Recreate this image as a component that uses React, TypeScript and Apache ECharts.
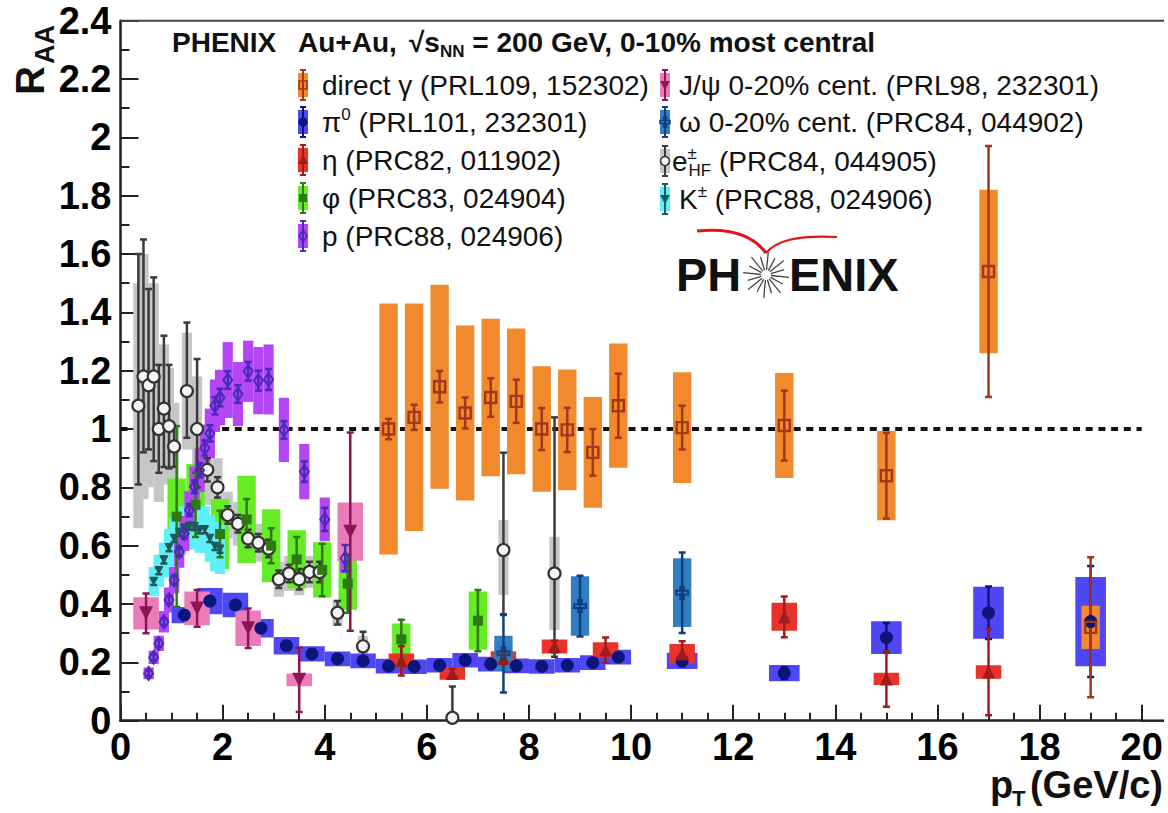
import React, { useEffect, useRef } from "react";
import * as echarts from "echarts";

const FONT = '"Liberation Sans", Arial, Helvetica, sans-serif';

// ---------------- data (pT in GeV/c, R_AA values, errors) ----------------
type Err = number | [number, number];

const gammaPt = [5.25, 5.75, 6.25, 6.75, 7.25, 7.75, 8.25, 8.75, 9.25, 9.75, 11, 13, 15, 17, 19];
const gammaVal = [1.0, 1.04, 1.145, 1.055, 1.108, 1.095, 1.0, 0.997, 0.92, 1.08, 1.005, 1.012, 0.84, 1.54, 0.32];
const gammaStat: Err[] = [0.035, 0.043, 0.054, 0.053, 0.066, 0.074, 0.072, 0.076, 0.08, 0.11, 0.075, 0.12, 0.147, 0.43, 0.24];
const gammaSys: Err[] = [0.43, 0.39, 0.35, 0.3, 0.27, 0.25, 0.215, 0.207, 0.19, 0.213, 0.19, 0.18, 0.153, 0.28, 0.074];

const pi0Pt = [1.25, 1.75, 2.25, 2.75, 3.25, 3.75, 4.25, 4.75, 5.25, 5.75, 6.25, 6.75, 7.25, 7.75, 8.25, 8.75, 9.25, 9.75, 11, 13, 15, 17, 19];
const pi0Val = [0.362, 0.41, 0.397, 0.317, 0.257, 0.229, 0.212, 0.205, 0.187, 0.185, 0.19, 0.207, 0.194, 0.188, 0.186, 0.19, 0.199, 0.218, 0.205, 0.163, 0.285, 0.37, 0.34];
const pi0Stat: Err[] = [0.004, 0.004, 0.004, 0.004, 0.004, 0.004, 0.004, 0.004, 0.004, 0.004, 0.005, 0.005, 0.005, 0.006, 0.007, 0.008, 0.01, 0.012, 0.015, 0.02, 0.05, 0.09, 0.19];
const pi0Sys: Err[] = [0.028, 0.045, 0.042, 0.032, 0.03, 0.026, 0.025, 0.025, 0.025, 0.025, 0.025, 0.025, 0.025, 0.025, 0.025, 0.025, 0.025, 0.025, 0.028, 0.028, 0.056, 0.089, 0.153];

const etaPt = [5.5, 6.5, 7.5, 8.5, 9.5, 11, 13, 15, 17];
const etaVal = [0.205, 0.162, 0.214, 0.254, 0.242, 0.229, 0.356, 0.143, 0.167];
const etaStat: Err[] = [0.05, 0.015, 0.02, 0.02, 0.043, 0.043, 0.07, 0.095, 0.148];
const etaSys: Err[] = [0.025, 0.022, 0.024, 0.024, 0.027, 0.034, 0.048, 0.021, 0.023];

const phiPt = [1.1, 1.47, 1.95, 2.47, 2.95, 3.45, 3.95, 4.45, 5.5, 7.0];
const phiVal = [0.7, 0.74, 0.64, 0.69, 0.6, 0.553, 0.517, 0.47, 0.279, 0.343];
const phiStat: Err[] = [0.31, 0.11, 0.08, 0.07, 0.06, 0.077, 0.09, 0.1, 0.067, 0.105];
const phiSys: Err[] = [0.13, 0.14, 0.12, 0.15, 0.125, 0.1, 0.095, 0.09, 0.054, 0.1];

const pPt = [0.55, 0.65, 0.75, 0.85, 0.95, 1.05, 1.15, 1.25, 1.35, 1.45, 1.55, 1.65, 1.75, 1.85, 1.95, 2.1, 2.3, 2.5, 2.7, 2.9, 3.2, 3.6, 4.0, 4.4];
const pVal = [0.162, 0.217, 0.265, 0.339, 0.414, 0.482, 0.579, 0.642, 0.722, 0.802, 0.859, 0.935, 0.985, 1.08, 1.108, 1.168, 1.12, 1.198, 1.166, 1.17, 0.997, 0.854, 0.69, 0.557];
const pStat: Err[] = [0.01, 0.01, 0.012, 0.012, 0.014, 0.015, 0.016, 0.018, 0.02, 0.022, 0.024, 0.026, 0.028, 0.03, 0.03, 0.03, 0.03, 0.032, 0.034, 0.036, 0.03, 0.035, 0.04, 0.045];
const pSys: Err[] = [0.02, 0.023, 0.026, 0.037, 0.043, 0.045, 0.055, 0.06, 0.065, 0.07, 0.075, 0.08, 0.085, 0.09, 0.095, 0.13, 0.11, 0.105, 0.115, 0.12, 0.11, 0.095, 0.075, 0.05];

const jpsiPt = [0.5, 1.5, 2.5, 3.5, 4.5];
const jpsiVal = [0.368, 0.385, 0.317, 0.14, 0.648];
const jpsiStat: Err[] = [0.068, 0.063, 0.068, 0.11, 0.34];
const jpsiSys: Err[] = [0.055, 0.058, 0.061, 0.022, 0.1];

const omegaPt = [7.5, 9.0, 11.0];
const omegaVal = [0.231, 0.393, 0.439];
const omegaStat: Err[] = [0.134, 0.104, 0.138];
const omegaSys: Err[] = [0.06, 0.102, 0.118];

const ePt = [0.35, 0.45, 0.55, 0.65, 0.75, 0.85, 0.95, 1.05, 1.3, 1.5, 1.7, 1.9, 2.1, 2.3, 2.5, 2.7, 2.9, 3.1, 3.3, 3.5, 3.7, 3.9, 4.25, 4.75, 6.5, 7.5, 8.5];
const eVal = [1.08, 1.18, 1.15, 1.18, 1.0, 1.07, 1.01, 0.94, 1.13, 1.0, 0.86, 0.8, 0.705, 0.675, 0.625, 0.61, 0.59, 0.485, 0.505, 0.485, 0.51, 0.51, 0.37, 0.255, 0.01, 0.585, 0.505];
const eStat: Err[] = [[0.27, 0.52], [0.26, 0.47], [0.22, 0.33], [0.29, 0.34], [0.15, 0.22], [0.2, 0.25], [0.145, 0.21], 0.07, [0.16, 0.235], [0.2, 0.24], 0.04, 0.035, 0.03, 0.03, 0.03, 0.03, 0.03, 0.03, 0.03, 0.035, 0.035, 0.035, 0.04, 0.05, [0.01, 0.107], [0.223, 0.334], [0.286, 0.535]];
const eSys: Err[] = [0.42, 0.42, 0.35, 0.32, 0.25, 0.22, 0.2, 0.15, 0.2, 0.18, 0.12, 0.1, 0.08, 0.075, 0.07, 0.065, 0.06, 0.06, 0.06, 0.055, 0.055, 0.055, 0.045, 0.035, 0.02, [0.154, 0.103], [0.194, 0.126]];

const kPt = [0.65, 0.75, 0.85, 0.95, 1.05, 1.15, 1.25, 1.35, 1.45, 1.55, 1.65, 1.75, 1.85, 1.95];
const kVal = [0.477, 0.514, 0.551, 0.593, 0.625, 0.645, 0.66, 0.667, 0.665, 0.654, 0.655, 0.625, 0.597, 0.588];
const kStat: Err[] = [0.012, 0.012, 0.012, 0.012, 0.012, 0.012, 0.012, 0.012, 0.012, 0.012, 0.012, 0.012, 0.012, 0.012];
const kSys: Err[] = [0.05, 0.055, 0.06, 0.065, 0.07, 0.075, 0.075, 0.078, 0.078, 0.078, 0.08, 0.08, 0.085, 0.085];

const refLineX = [0, 20];
const refLineY = 1;

const xTicks = { min: 0, max: 20, interval: 2 };
const yTicks = { min: 0, max: 2.4, interval: 0.2 };

// ---------------- styles ----------------
type Mk = "circle" | "square" | "tri" | "tridown" | "diamond" | "cross";
interface Spec {
  key: string;
  pt: number[];
  val: number[];
  stat: Err[];
  sys: Err[];
  box: string;
  err: string;
  mk: Mk;
  size: number | number[];
  fill: string;
  border: string;
  bw: number;
  hw: (x: number) => number;
}

const pr = (e: Err): [number, number] => (typeof e === "number" ? [e, e] : e);

// draw order (bottom -> top)
const SPECS: Spec[] = [
  { key: "e", pt: ePt, val: eVal, stat: eStat, sys: eSys, box: "#c6c6c6", err: "#3a3a3a", mk: "circle", size: 12, fill: "#f4f4f4", border: "#333333", bw: 2.2, hw: () => 0.1 },
  { key: "phi", pt: phiPt, val: phiVal, stat: phiStat, sys: phiSys, box: "#66ec24", err: "#2e7a12", mk: "square", size: 10, fill: "#2e7a12", border: "#2e7a12", bw: 0, hw: () => 0.18 },
  { key: "K", pt: kPt, val: kVal, stat: kStat, sys: kSys, box: "#5ef0f6", err: "#1f5a5a", mk: "tridown", size: 9, fill: "#1f5a5a", border: "#1f5a5a", bw: 0, hw: () => 0.1 },
  { key: "p", pt: pPt, val: pVal, stat: pStat, sys: pSys, box: "#b446f6", err: "#4a2ab8", mk: "diamond", size: [9, 13], fill: "rgba(0,0,0,0)", border: "#4a2ab8", bw: 2, hw: () => 0.1 },
  { key: "pi0", pt: pi0Pt, val: pi0Val, stat: pi0Stat, sys: pi0Sys, box: "#4f46f4", err: "#0c167a", mk: "circle", size: 13, fill: "#0c167a", border: "#0c167a", bw: 0, hw: (x) => (x > 10 ? 0.3 : 0.25) },
  { key: "eta", pt: etaPt, val: etaVal, stat: etaStat, sys: etaSys, box: "#e8322a", err: "#9e1c1c", mk: "tri", size: 13, fill: "#9e1c1c", border: "#9e1c1c", bw: 0, hw: () => 0.25 },
  { key: "jpsi", pt: jpsiPt, val: jpsiVal, stat: jpsiStat, sys: jpsiSys, box: "#e97cb9", err: "#8e1552", mk: "tridown", size: 14, fill: "#8e1552", border: "#8e1552", bw: 0, hw: () => 0.25 },
  { key: "omega", pt: omegaPt, val: omegaVal, stat: omegaStat, sys: omegaSys, box: "#2f7fc2", err: "#123f7c", mk: "cross", size: 12, fill: "rgba(0,0,0,0)", border: "#123f7c", bw: 2, hw: () => 0.18 },
  { key: "gamma", pt: gammaPt, val: gammaVal, stat: gammaStat, sys: gammaSys, box: "#f08a2c", err: "#a3371a", mk: "square", size: 11, fill: "rgba(0,0,0,0)", border: "#a3371a", bw: 2.4, hw: () => 0.18 },
];

const SYMBOL: Record<Mk, string> = {
  circle: "circle",
  square: "rect",
  tri: "triangle",
  tridown: "path://M0,0L10,0L5,9Z",
  diamond: "diamond",
  cross: "path://M3.5,0H6.5V3.5H10V6.5H6.5V10H3.5V6.5H0V3.5H3.5Z",
};

const specByKey = (k: string) => SPECS.find((s) => s.key === k)!;

// ---------------- helpers ----------------
let _ctx: CanvasRenderingContext2D | null = null;
function measure(text: string, size: number, weight = "normal") {
  if (!_ctx) _ctx = document.createElement("canvas").getContext("2d");
  if (!_ctx) return text.length * size * 0.55;
  _ctx.font = `${weight} ${size}px ${FONT}`;
  return _ctx.measureText(text).width;
}

function txt(text: string, x: number, y: number, size: number, weight = "normal", align = "left", extra: any = {}) {
  return {
    type: "text",
    x,
    y,
    silent: true,
    z: 100,
    ...extra,
    style: { text, fontSize: size, fontWeight: weight, fontFamily: FONT, fill: "#111", align, verticalAlign: "middle" },
  };
}

function legendMarker(s: Spec, cx: number, cy: number): any[] {
  const out: any[] = [];
  out.push({ type: "rect", silent: true, z: 100, shape: { x: cx - 5, y: cy - 12, width: 10, height: 24 }, style: { fill: s.box } });
  const ls = { stroke: s.err, lineWidth: 2 };
  out.push({ type: "line", silent: true, z: 101, shape: { x1: cx, y1: cy - 15, x2: cx, y2: cy + 15 }, style: ls });
  out.push({ type: "line", silent: true, z: 101, shape: { x1: cx - 3, y1: cy - 15, x2: cx + 3, y2: cy - 15 }, style: ls });
  out.push({ type: "line", silent: true, z: 101, shape: { x1: cx - 3, y1: cy + 15, x2: cx + 3, y2: cy + 15 }, style: ls });
  const st = { fill: s.fill, stroke: s.border, lineWidth: s.bw > 0 ? 1.6 : 0 };
  let m: any;
  if (s.mk === "circle") m = { type: "circle", shape: { cx, cy, r: 4.5 }, style: st };
  else if (s.mk === "square") m = { type: "rect", shape: { x: cx - 4, y: cy - 4, width: 8, height: 8 }, style: st };
  else if (s.mk === "tri") m = { type: "polygon", shape: { points: [[cx, cy - 5], [cx + 5, cy + 4], [cx - 5, cy + 4]] }, style: st };
  else if (s.mk === "tridown") m = { type: "polygon", shape: { points: [[cx - 5, cy - 4], [cx + 5, cy - 4], [cx, cy + 5]] }, style: st };
  else if (s.mk === "diamond") m = { type: "polygon", shape: { points: [[cx, cy - 6], [cx + 4, cy], [cx, cy + 6], [cx - 4, cy]] }, style: st };
  else
    m = {
      type: "polygon",
      shape: {
        points: [
          [cx - 1.5, cy - 5], [cx + 1.5, cy - 5], [cx + 1.5, cy - 1.5], [cx + 5, cy - 1.5], [cx + 5, cy + 1.5], [cx + 1.5, cy + 1.5],
          [cx + 1.5, cy + 5], [cx - 1.5, cy + 5], [cx - 1.5, cy + 1.5], [cx - 5, cy + 1.5], [cx - 5, cy - 1.5], [cx - 1.5, cy - 1.5],
        ],
      },
      style: st,
    };
  out.push({ ...m, silent: true, z: 102 });
  return out;
}

interface Part { t: string; k?: "sup" | "sub"; stack?: string }
const LEGEND: { key: string; col: number; row: number; parts: Part[] }[] = [
  { key: "gamma", col: 0, row: 0, parts: [{ t: "direct γ (PRL109, 152302)" }] },
  { key: "pi0", col: 0, row: 1, parts: [{ t: "π" }, { t: "0", k: "sup" }, { t: " (PRL101, 232301)" }] },
  { key: "eta", col: 0, row: 2, parts: [{ t: "η (PRC82, 011902)" }] },
  { key: "phi", col: 0, row: 3, parts: [{ t: "φ (PRC83, 024904)" }] },
  { key: "p", col: 0, row: 4, parts: [{ t: "p (PRC88, 024906)" }] },
  { key: "jpsi", col: 1, row: 0, parts: [{ t: "J/ψ 0-20% cent. (PRL98, 232301)" }] },
  { key: "omega", col: 1, row: 1, parts: [{ t: "ω 0-20% cent. (PRC84, 044902)" }] },
  { key: "e", col: 1, row: 2, parts: [{ t: "e" }, { t: "±", k: "sup", stack: "HF" }, { t: " (PRC84, 044905)" }] },
  { key: "K", col: 1, row: 3, parts: [{ t: "K" }, { t: "±", k: "sup" }, { t: " (PRC88, 024906)" }] },
];

function buildGraphic(): any[] {
  const g: any[] = [];
  // frame extensions (top border, x-axis line beyond 20)
  g.push({ type: "line", silent: true, z: 50, shape: { x1: 120.5, y1: 20.7, x2: 1164, y2: 20.7 }, style: { stroke: "#444", lineWidth: 2 } });
  g.push({ type: "line", silent: true, z: 50, shape: { x1: 1141, y1: 720.7, x2: 1164, y2: 720.7 }, style: { stroke: "#222", lineWidth: 2.5 } });

  // header
  const HS = 28;
  g.push(txt("PHENIX", 172, 42, HS, "bold"));
  g.push(txt("Au+Au,", 298, 42, HS, "bold"));
  let hx = 409;
  g.push(txt("√", hx, 42, HS, "bold"));
  hx += measure("√", HS, "bold");
  g.push(txt("s", hx, 42, HS, "bold"));
  hx += measure("s", HS, "bold");
  g.push(txt("NN", hx, 51, 17, "bold"));
  hx += measure("NN", 17, "bold");
  g.push(txt(" = 200 GeV, 0-10% most central", hx, 42, HS, "bold"));

  // legend
  const LS = 28;
  const rowsY = [[85, 122, 160, 198, 236], [85, 122, 161, 199]];
  const markX = [303, 665];
  const textX = [322, 679];
  for (const e of LEGEND) {
    const s = specByKey(e.key);
    const y = rowsY[e.col][e.row];
    g.push(...legendMarker(s, markX[e.col], y));
    let x = textX[e.col] - (e.key === "e" ? 7 : 0);
    for (const p of e.parts) {
      if (p.k === "sup") {
        g.push(txt(p.t, x, y - 8, 17));
        let w = measure(p.t, 17);
        if (p.stack) {
          g.push(txt(p.stack, x + 1, y + 9, 17));
          w = Math.max(w, measure(p.stack, 17) + 1);
        }
        x += w;
      } else {
        g.push(txt(p.t, x, y, LS));
        x += measure(p.t, LS);
      }
    }
  }

  // PHENIX logo
  const LGS = 47;
  g.push(txt("PH", 676, 274, LGS, "bold", "left", {}));
  g.push(txt("ENIX", 789, 274, LGS, "bold", "left", {}));
  const cx = 766, cy = 275;
  for (let i = 0; i < 16; i++) {
    const a = (i * Math.PI) / 8 + 0.1;
    const r2 = i % 2 === 0 ? 23 : 19;
    g.push({
      type: "line", silent: true, z: 100,
      shape: { x1: cx + 5 * Math.cos(a), y1: cy + 5 * Math.sin(a), x2: cx + r2 * Math.cos(a), y2: cy + r2 * Math.sin(a) },
      style: { stroke: "#444", lineWidth: 1.3 },
    });
  }
  g.push({ type: "bezierCurve", silent: true, z: 100, shape: { x1: 697, y1: 231, cpx1: 735, cpy1: 227, cpx2: 755, cpy2: 238, x2: 766, y2: 253 }, style: { stroke: "#e2141a", lineWidth: 3, fill: null } });
  g.push({ type: "bezierCurve", silent: true, z: 100, shape: { x1: 766, y1: 253, cpx1: 776, cpy1: 241, cpx2: 796, cpy2: 235, x2: 837, y2: 237 }, style: { stroke: "#e2141a", lineWidth: 2.2, fill: null } });

  // axis titles
  g.push(txt("AA", 45, 25, 27, "bold", "right", { rotation: Math.PI / 2 }));
  g.push(txt("R", 30, 66, 40, "bold", "right", { rotation: Math.PI / 2 }));
  g.push(txt("p", 990, 785, 38, "bold"));
  g.push(txt("T", 1012, 798, 22, "bold"));
  g.push(txt("(GeV/c)", 1163, 785, 38, "bold", "right"));
  return g;
}

function buildOption(): any {
  const series: any[] = [];
  series.push({
    type: "line",
    silent: true,
    z: 1,
    symbol: "none",
    data: refLineX.map((x) => [x, refLineY]),
    lineStyle: { color: "#111", width: 4, type: [7, 5.7] },
  });
  for (const s of SPECS) {
    series.push({
      type: "custom",
      silent: true,
      z: 2,
      clip: true,
      encode: { x: 0, y: [1, 2] },
      data: s.pt.map((x, i) => {
        const [d, u] = pr(s.sys[i]);
        return [x, s.val[i] - d, s.val[i] + u, s.hw(x)];
      }),
      renderItem: (_p: any, api: any) => {
        const x = api.value(0), lo = api.value(1), hi = api.value(2), hw = api.value(3);
        const a = api.coord([x - hw, hi]);
        const b = api.coord([x + hw, lo]);
        return { type: "rect", shape: { x: a[0], y: a[1], width: b[0] - a[0], height: b[1] - a[1] }, style: { fill: s.box } };
      },
    });
  }
  for (const s of SPECS) {
    series.push({
      type: "custom",
      silent: true,
      z: 3,
      clip: true,
      encode: { x: 0, y: [1, 2] },
      data: s.pt.map((x, i) => {
        const [d, u] = pr(s.stat[i]);
        return [x, s.val[i] - d, s.val[i] + u];
      }),
      renderItem: (_p: any, api: any) => {
        const x = api.value(0), lo = api.value(1), hi = api.value(2);
        const t = api.coord([x, hi]);
        const b = api.coord([x, lo]);
        const st = { stroke: s.err, lineWidth: 2.5 };
        const c = 3.5;
        return {
          type: "group",
          children: [
            { type: "line", shape: { x1: t[0], y1: t[1], x2: b[0], y2: b[1] }, style: st },
            { type: "line", shape: { x1: t[0] - c, y1: t[1], x2: t[0] + c, y2: t[1] }, style: st },
            { type: "line", shape: { x1: b[0] - c, y1: b[1], x2: b[0] + c, y2: b[1] }, style: st },
          ],
        };
      },
    });
  }
  for (const s of SPECS) {
    series.push({
      type: "scatter",
      silent: true,
      z: 4,
      symbol: SYMBOL[s.mk],
      symbolSize: s.size,
      itemStyle: { color: s.fill, borderColor: s.border, borderWidth: s.bw, opacity: 1 },
      data: s.pt.map((x, i) => [x, s.val[i]]),
    });
  }

  const axisCol = "#222";
  return {
    animation: false,
    backgroundColor: "#ffffff",
    grid: { left: 120.5, right: 26.3, top: 20.7, bottom: 92.3, containLabel: false },
    xAxis: {
      type: "value",
      ...xTicks,
      axisLine: { show: true, onZero: false, lineStyle: { color: axisCol, width: 2.5 } },
      axisTick: { show: true, inside: true, length: 16, lineStyle: { color: axisCol, width: 2 } },
      minorTick: { show: true, splitNumber: 4, length: 8, lineStyle: { color: axisCol, width: 2 } },
      axisLabel: { color: "#000", fontSize: 38, fontWeight: "bold", fontFamily: FONT, margin: 7 },
      splitLine: { show: false },
      minorSplitLine: { show: false },
    },
    yAxis: {
      type: "value",
      ...yTicks,
      axisLine: { show: true, onZero: false, lineStyle: { color: axisCol, width: 2.5 } },
      axisTick: { show: true, inside: true, length: 18, lineStyle: { color: axisCol, width: 2 } },
      minorTick: { show: true, splitNumber: 2, length: 9, lineStyle: { color: axisCol, width: 2 } },
      axisLabel: {
        color: "#000", fontSize: 38, fontWeight: "bold", fontFamily: FONT, margin: 9,
        formatter: (v: number) => String(Math.round(v * 10) / 10),
      },
      splitLine: { show: false },
      minorSplitLine: { show: false },
    },
    series,
    graphic: { elements: buildGraphic() },
  };
}

export default function App() {
  const ref = useRef<HTMLDivElement>(null);
  useEffect(() => {
    if (!ref.current) return;
    const chart = echarts.init(ref.current, null, { renderer: "svg" });
    chart.setOption(buildOption());
    return () => chart.dispose();
  }, []);
  return (
    <div
      ref={ref}
      style={{ position: "fixed", left: 0, top: 0, width: 1168, height: 813, background: "#fff" }}
    />
  );
}
